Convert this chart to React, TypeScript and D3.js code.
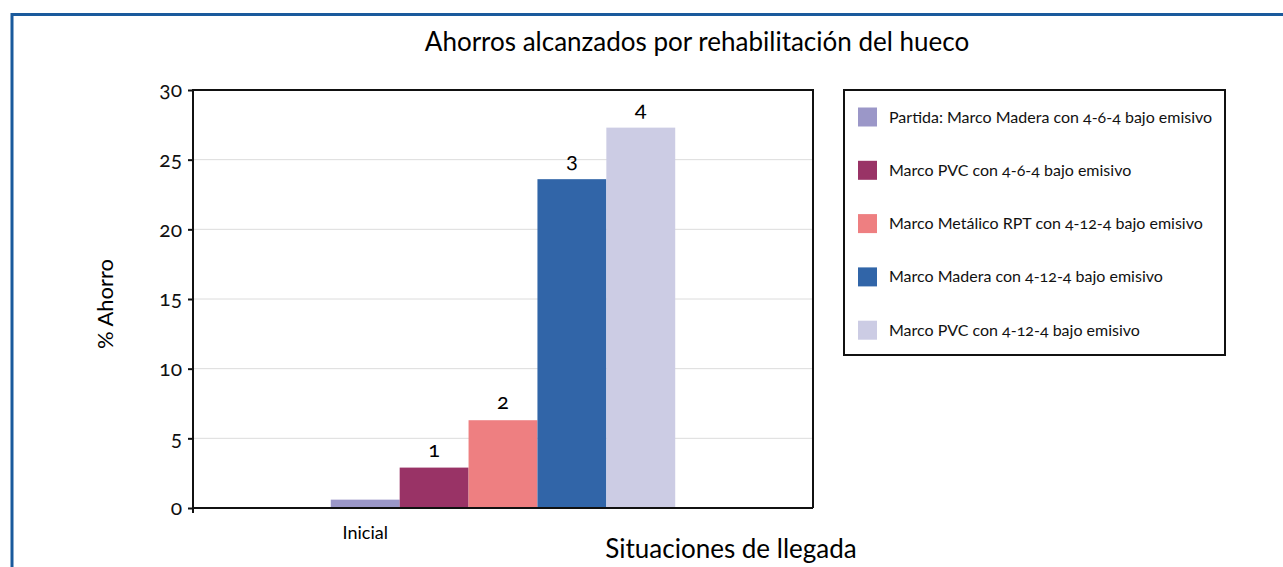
import { useRef, useEffect } from 'react';
import * as d3 from 'd3';

const seriesNames = [
  'Partida: Marco Madera con 4-6-4 bajo emisivo',
  'Marco PVC con 4-6-4 bajo emisivo',
  'Marco Metálico RPT con 4-12-4 bajo emisivo',
  'Marco Madera con 4-12-4 bajo emisivo',
  'Marco PVC con 4-12-4 bajo emisivo',
];
const ahorro = [0.6, 2.9, 6.3, 23.6, 27.3];
const barLabels = ['', '1', '2', '3', '4'];
const colors = ['#9b97c8', '#993366', '#ee7f81', '#3165a8', '#cccce4'];
const yTicks = [0, 5, 10, 15, 20, 25, 30];
const category = 'Inicial';

const FONT = 'Lato, sans-serif';

const useD3 = (renderChartFn, dependencies) => {
  const ref = useRef(null);
  useEffect(() => {
    renderChartFn(d3.select(ref.current));
  }, dependencies);
  return ref;
};

export default function App() {
  const width = 1283;
  const height = 567;
  const margin = { top: 90, right: 470, bottom: 59, left: 193 };

  const ref = useD3((svg) => {
    svg.selectAll('*').remove();
    svg.style('font-variant-numeric', 'oldstyle-nums');

    // blue frame
    svg.append('rect')
      .attr('x', 12).attr('y', 14.5)
      .attr('width', width + 20).attr('height', height + 20)
      .attr('fill', 'none')
      .attr('stroke', '#1a5a9c')
      .attr('stroke-width', 3);

    const x = d3.scaleBand()
      .domain(ahorro.map((d, i) => i))
      .range([margin.left, width - margin.right])
      .paddingInner(0)
      .paddingOuter(2);

    const y = d3.scaleLinear()
      .domain([0, 30])
      .range([height - margin.bottom, margin.top]);

    // title
    svg.append('text')
      .attr('x', 697).attr('y', 51)
      .attr('text-anchor', 'middle')
      .attr('font-family', FONT)
      .attr('font-size', 26)
      .text('Ahorros alcanzados por rehabilitación del hueco');

    // gridlines
    svg.append('g')
      .selectAll('line')
      .data(yTicks.filter((t) => t > 0 && t < 30))
      .join('line')
      .attr('x1', margin.left).attr('x2', width - margin.right)
      .attr('y1', (d) => y(d)).attr('y2', (d) => y(d))
      .attr('stroke', '#dcdcdc')
      .attr('stroke-width', 1);

    // bars
    svg.append('g')
      .selectAll('rect')
      .data(ahorro)
      .join('rect')
      .attr('x', (d, i) => x(i))
      .attr('width', x.bandwidth())
      .attr('y', (d) => y(d))
      .attr('height', (d) => y(0) - y(d))
      .attr('fill', (d, i) => colors[i]);

    // bar labels
    svg.append('g')
      .selectAll('text')
      .data(ahorro)
      .join('text')
      .attr('x', (d, i) => x(i) + x.bandwidth() / 2)
      .attr('y', (d) => y(d) - 11)
      .attr('text-anchor', 'middle')
      .attr('font-family', FONT)
      .attr('font-size', 22)
      .text((d, i) => barLabels[i]);

    // plot frame top/right
    svg.append('path')
      .attr('d', `M${margin.left},${y(30)}H${width - margin.right}V${y(0)}`)
      .attr('fill', 'none')
      .attr('stroke', '#111')
      .attr('stroke-width', 2);

    // x axis line
    svg.append('line')
      .attr('x1', margin.left).attr('x2', width - margin.right)
      .attr('y1', y(0)).attr('y2', y(0))
      .attr('stroke', '#111').attr('stroke-width', 2);

    // y axis
    const yAxis = svg.append('g')
      .attr('transform', `translate(${margin.left},0)`)
      .call(d3.axisLeft(y).tickValues(yTicks).tickSize(5).tickSizeOuter(0).tickPadding(6));
    yAxis.select('.domain').remove();
    yAxis.selectAll('.tick line').attr('stroke', '#111').attr('stroke-width', 2);
    yAxis.selectAll('.tick text')
      .attr('fill', '#111')
      .attr('font-family', FONT)
      .attr('font-size', 21);
    svg.append('line')
      .attr('x1', margin.left).attr('x2', margin.left)
      .attr('y1', y(30) - 1).attr('y2', y(0) + 5)
      .attr('stroke', '#111').attr('stroke-width', 2);

    // category label
    svg.append('text')
      .attr('x', x(0) + x.bandwidth() / 2)
      .attr('y', y(0) + 31)
      .attr('text-anchor', 'middle')
      .attr('font-family', FONT)
      .attr('font-size', 18)
      .text(category);

    // axis titles
    svg.append('text')
      .attr('x', 731).attr('y', 558)
      .attr('text-anchor', 'middle')
      .attr('font-family', FONT)
      .attr('font-size', 26)
      .text('Situaciones de llegada');
    svg.append('text')
      .attr('transform', `translate(113,${304}) rotate(-90)`)
      .attr('text-anchor', 'middle')
      .attr('font-family', FONT)
      .attr('font-size', 22)
      .text('% Ahorro');

    // legend
    const lg = svg.append('g');
    lg.append('rect')
      .attr('x', 844).attr('y', 90)
      .attr('width', 381).attr('height', 265)
      .attr('fill', 'white')
      .attr('stroke', '#111')
      .attr('stroke-width', 2);
    const rows = lg.selectAll('g.row')
      .data(seriesNames)
      .join('g')
      .attr('class', 'row')
      .attr('transform', (d, i) => `translate(858,${117 + i * 53.3})`);
    rows.append('rect')
      .attr('x', 0).attr('y', -9.5)
      .attr('width', 19).attr('height', 19)
      .attr('fill', (d, i) => colors[i]);
    rows.append('text')
      .attr('x', 31).attr('y', 5.5)
      .attr('font-family', FONT)
      .attr('font-size', 16)
      .attr('fill', '#111')
      .text((d) => d);
  }, []);

  return (
    <svg
      ref={ref}
      width={width}
      height={height}
      style={{ position: 'absolute', left: 0, top: 0, background: 'white' }}
    />
  );
}
